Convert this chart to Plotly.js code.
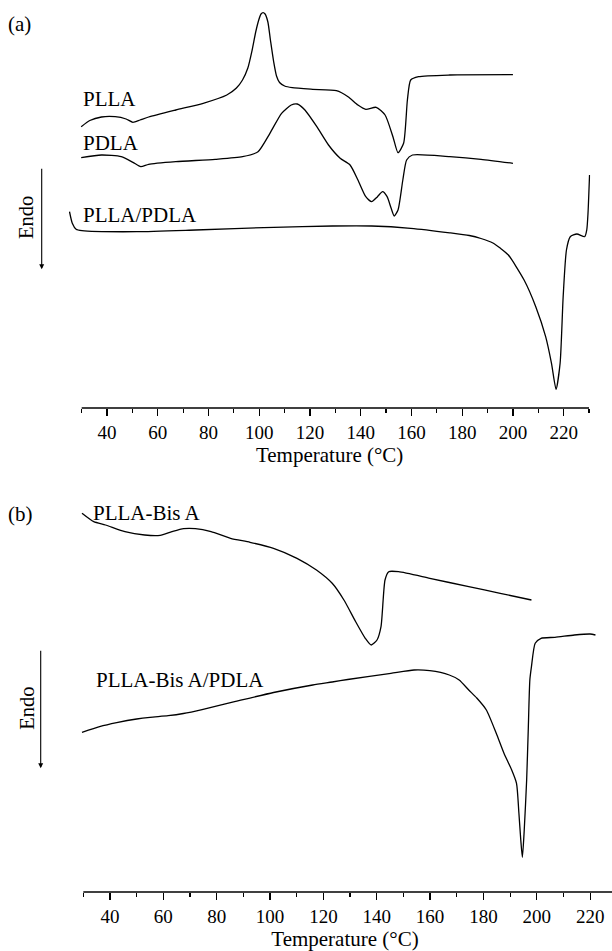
<!DOCTYPE html>
<html>
<head>
<meta charset="utf-8">
<script src="https://cdn.plot.ly/plotly-3.0.1.min.js"></script>
<style>html,body{margin:0;padding:0;background:#fff;}#chart{width:612px;height:951px;}</style>
</head>
<body>
<div id="chart"></div>
<script>
// Panel (a): temperature (°C) and heat flow (arbitrary units, up = exo)
var tPLLA = [29.8, 33.2, 37.8, 43.2, 47.5, 50.2, 53.0, 56.4, 67.1, 77.9, 87.2, 91.0, 93.4, 95.5, 97.2, 98.6, 99.8, 100.7, 101.5, 102.3, 103.4, 104.4, 105.7, 106.8, 108.0, 110.0, 113.0, 121.1, 130.4, 135.0, 138.9, 142.0, 146.1, 149.6, 152.7, 154.7, 156.9, 158.4, 159.7, 162.8, 175.1, 200.0];
var hPLLA = [281.3, 287.5, 291, 291.3, 289, 285.7, 288, 291, 298, 304.7, 313, 320, 328, 340, 358, 376, 388, 394, 395.3, 394, 386, 368, 346, 332, 325.5, 322, 320.3, 318.7, 317.3, 311.3, 303, 298.7, 300.7, 293, 271.3, 255.3, 264.7, 308, 328, 331.3, 333, 333.3];

var tPDLA = [29.8, 37.8, 45.6, 50.2, 53.3, 56.4, 67.1, 82.6, 93.4, 99.5, 104.2, 108.8, 112.6, 115.0, 118.0, 122.7, 127.3, 131.9, 135.8, 138.9, 142.0, 144.3, 146.6, 148.6, 150.4, 152.0, 153.2, 154.7, 156.6, 158.1, 160.4, 175.1, 187.4, 200.0];
var hPDLA = [250.3, 253, 251.3, 245.7, 241.3, 243.7, 246.3, 248.7, 251.3, 256.3, 274.7, 294.7, 303, 304, 298, 281.3, 263, 249.7, 243, 228, 211.3, 206.3, 211.3, 216.3, 211.3, 199.7, 192, 198, 228, 248, 253, 251.3, 248.7, 244.7];

var tBlend = [25.2, 26.3, 27.8, 30.1, 51.7, 74.9, 105.7, 128.8, 144.3, 159.7, 175.1, 182.8, 187.4, 192.1, 195.1, 198.2, 204.4, 209.0, 212.9, 215.2, 217.0, 218.6, 219.8, 221.1, 222.6, 225.2, 228.3, 229.1, 229.6, 230.2];
var hBlend = [196.3, 184.7, 178.7, 177.3, 176.3, 178, 180.7, 182, 182, 179.7, 175.2, 172.5, 169.5, 165, 159.7, 153, 128, 101.3, 71.3, 44.7, 18.7, 44.7, 111.3, 158, 171.3, 174, 171.3, 178, 195, 233];

// Panel (b)
var tBisA = [29.5, 33.9, 38.3, 45.6, 53.0, 58.8, 63.2, 67.6, 72.0, 77.9, 85.2, 92.5, 101.3, 110.1, 117.4, 123.3, 127.7, 132.1, 135.7, 137.9, 140.1, 141.6, 143.1, 144.5, 148.2, 159.9, 174.5, 186.3, 198.0];
var hBisA = [378.7, 370.3, 367, 360.3, 357, 356.7, 360.3, 363.3, 363.3, 360.3, 353.7, 349.7, 343.7, 333.7, 322, 308.7, 292, 270.3, 253.7, 247, 252, 265.3, 312, 320.3, 320.3, 313.7, 305.3, 298.7, 292];

var tBisABlend = [29.5, 36.1, 42.5, 50.0, 55.0, 61.8, 67.5, 74.9, 86.7, 101.3, 116.0, 123.3, 129.1, 145.3, 154.0, 159.9, 167.2, 170.9, 174.5, 177.5, 181.1, 184.8, 187.7, 190.6, 192.4, 193.3, 194.0, 194.6, 195.3, 196.2, 196.8, 197.4, 198.0, 199.4, 201.6, 206.8, 214.1, 220.0, 222.0];
var hBisABlend = [159.7, 165.3, 169.3, 173, 174.7, 176.3, 178.5, 182.7, 190.3, 199.5, 207, 210, 212.5, 218.7, 222, 221.3, 217, 212, 202, 194, 182, 158.7, 138.7, 122, 108.7, 78.7, 52, 34.7, 62, 112, 162, 212, 225.3, 248.7, 253.7, 254.7, 257, 258, 257];

var tickVals = [40, 60, 80, 100, 120, 140, 160, 180, 200, 220];
var tickText = ['40', '60', '80', '100', '120', '140', '160', '180', '200', '220'];
var xTitle = 'Temperature (°C)';
var seriesLabels = ['PLLA', 'PDLA', 'PLLA/PDLA', 'PLLA-Bis A', 'PLLA-Bis A/PDLA'];

var FONT = 'Liberation Serif, Times New Roman, serif';
var W = 612, H = 951;
function px(x) { return x / W; }
function py(y) { return 1 - y / H; }

var lineStyle = {color: '#000', width: 1.3, shape: 'spline', smoothing: 0.6};
function tr(x, y, xa, ya) {
  return {x: x, y: y, xaxis: xa, yaxis: ya, type: 'scatter', mode: 'lines', line: lineStyle, hoverinfo: 'skip', showlegend: false};
}
var data = [
  tr(tPLLA, hPLLA, 'x', 'y'),
  tr(tPDLA, hPDLA, 'x', 'y'),
  tr(tBlend, hBlend, 'x', 'y'),
  tr(tBisA, hBisA, 'x2', 'y2'),
  tr(tBisABlend, hBisABlend, 'x2', 'y2')
];

function xax(domain, range, anchor) {
  return {
    domain: domain, range: range, anchor: anchor,
    showline: false, showgrid: false, zeroline: false,
    tickmode: 'array', tickvals: tickVals, ticktext: tickText,
    ticks: 'outside', ticklen: 7, tickwidth: 1.2, tickcolor: '#000',
    minor: {tickmode: 'linear', tick0: 30, dtick: 10, ticks: 'outside', ticklen: 4, tickwidth: 1.2, tickcolor: '#000', showgrid: false},
    tickfont: {family: FONT, size: 19, color: '#000'},
    title: {text: xTitle, font: {family: FONT, size: 21, color: '#000'}, standoff: 5},
    automargin: false, fixedrange: true
  };
}

var layout = {
  width: W, height: H,
  margin: {l: 0, r: 0, t: 0, b: 0},
  paper_bgcolor: '#fff', plot_bgcolor: 'rgba(0,0,0,0)',
  showlegend: false,
  xaxis: xax([px(69.0), px(590.3)], [25, 230.5], 'y'),
  yaxis: {domain: [py(408), 1], range: [0, 408], visible: false, fixedrange: true},
  xaxis2: xax([px(78.0), 1], [28, 228.2], 'y2'),
  yaxis2: {domain: [py(892), py(480)], range: [0, 412], visible: false, fixedrange: true},
  shapes: [
    {type: 'line', xref: 'paper', yref: 'paper', x0: px(81.7), x1: px(589), y0: py(408), y1: py(408), line: {color: '#000', width: 1.3}},
    {type: 'line', xref: 'paper', yref: 'paper', x0: px(83.3), x1: 1, y0: py(892), y1: py(892), line: {color: '#000', width: 1.3}}
  ],
  annotations: []
};

function lab(text, x, y, opts) {
  var a = {text: text, xref: 'paper', yref: 'paper', x: px(x), y: py(y), xanchor: 'left', yanchor: 'middle', showarrow: false, font: {family: FONT, size: 21, color: '#000'}};
  for (var k in (opts || {})) a[k] = opts[k];
  return a;
}
layout.annotations.push(lab('(a)', 6, 24));
layout.annotations.push(lab('(b)', 6, 514));
layout.annotations.push(lab(seriesLabels[0], 81, 99));
layout.annotations.push(lab(seriesLabels[1], 81, 143.5));
layout.annotations.push(lab(seriesLabels[2], 81, 215));
layout.annotations.push(lab(seriesLabels[3], 91, 513));
layout.annotations.push(lab(seriesLabels[4], 94, 680));
layout.annotations.push(lab('Endo', 26, 218, {xanchor: 'center', textangle: -90, font: {family: FONT, size: 20.5, color: '#000'}}));
layout.annotations.push(lab('Endo', 26.7, 708, {xanchor: 'center', textangle: -90, font: {family: FONT, size: 20.5, color: '#000'}}));
function arrow(x, yTip, yTail) {
  return {text: '', xref: 'paper', yref: 'paper', x: px(x), y: py(yTip), ax: 0, ay: -(yTip - yTail), axref: 'pixel', ayref: 'pixel',
    showarrow: true, arrowhead: 2, arrowsize: 0.9, arrowwidth: 1.1, arrowcolor: '#000', standoff: 0, startstandoff: 0};
}
layout.annotations.push(arrow(41.7, 269.3, 167.3));
layout.annotations.push(arrow(40.7, 768.3, 649.3));

Plotly.newPlot('chart', data, layout, {staticPlot: true, displayModeBar: false});
</script>
</body>
</html>
